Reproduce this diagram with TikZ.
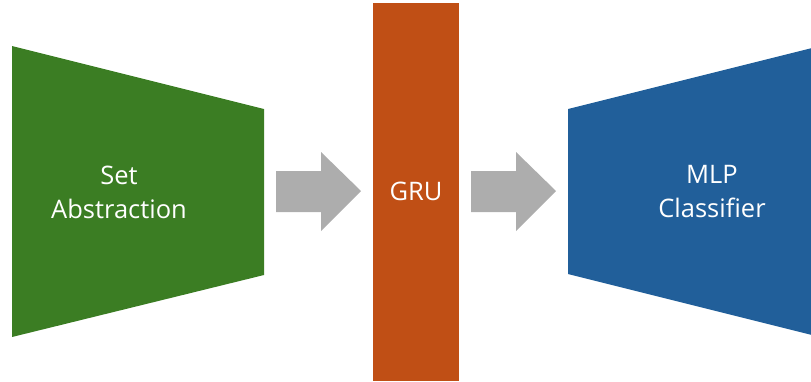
\documentclass[tikz,border=0pt]{standalone}
\usepackage{fontspec}
\setmainfont{Open Sans}
\definecolor{sagreen}{HTML}{3B7D23}
\definecolor{gruorange}{HTML}{C04F15}
\definecolor{mlpblue}{HTML}{215F9A}
\definecolor{arrgray}{HTML}{ADADAD}
\begin{document}
\begin{tikzpicture}[x=1pt,y=-1pt,
  lbl/.style={text=white,font=\fontsize{25.5}{34}\selectfont,align=center},
  bigarrow/.style={fill=arrgray}]
\useasboundingbox (0,0) rectangle (811,381);
\clip (0,0) rectangle (811,381);
% Set Abstraction trapezoid
\fill[sagreen] (12,46) -- (264,109) -- (264,275) -- (12,337) -- cycle;
\node[lbl] (sa) at (119,192) {Set\\Abstraction};
% arrow 1
\fill[bigarrow] (276,171) -- (321,171) -- (321,152) -- (361,191) -- (321,231) -- (321,212) -- (276,212) -- cycle;
% GRU
\fill[gruorange] (373,3) rectangle (459,381);
\node[lbl] (gru) at (416,191) {GRU};
% arrow 2
\fill[bigarrow] (471,171) -- (516,171) -- (516,152) -- (556,191) -- (516,231) -- (516,212) -- (471,212) -- cycle;
% MLP trapezoid
\fill[mlpblue] (568,109) -- (820,46) -- (820,337) -- (568,274) -- cycle;
\node[lbl] (mlp) at (712,192) {MLP\\Classifier};
\end{tikzpicture}
\end{document}
